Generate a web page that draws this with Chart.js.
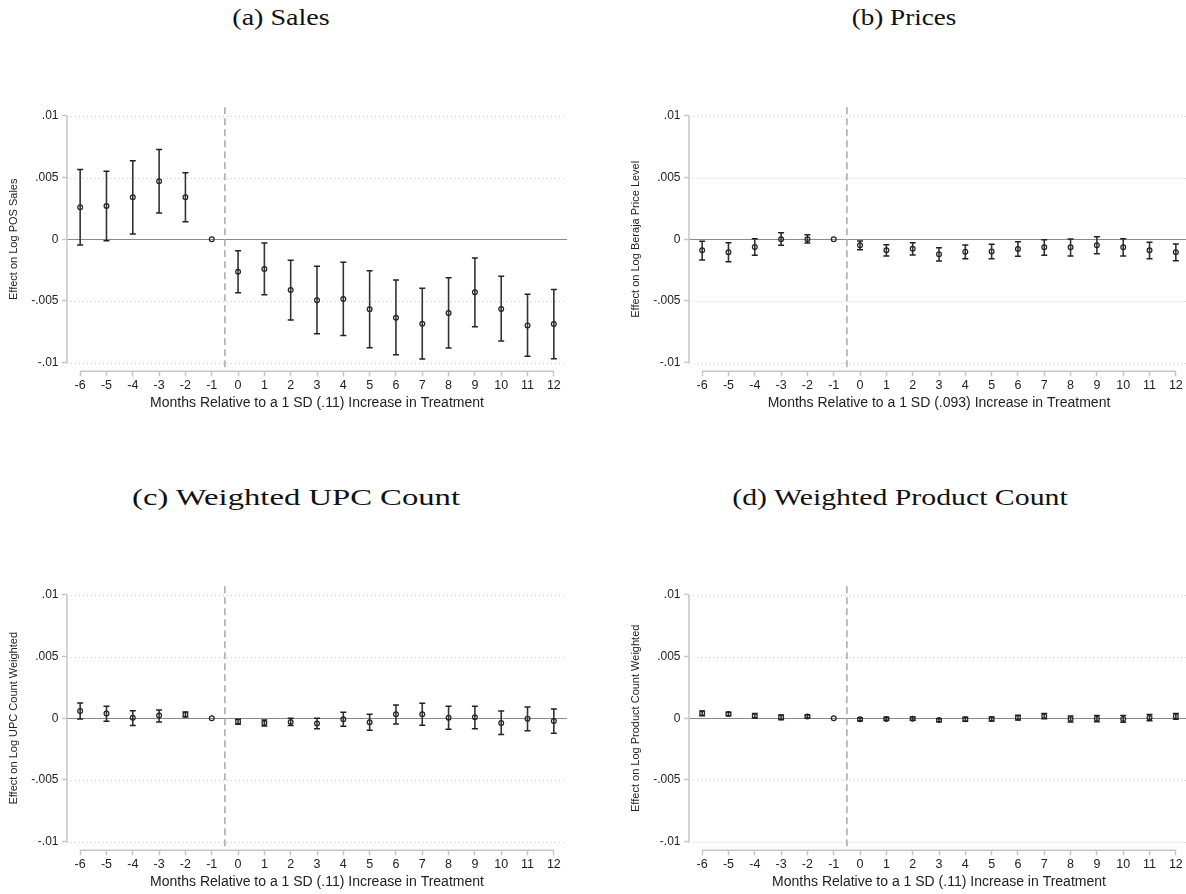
<!DOCTYPE html>
<html>
<head>
<meta charset="utf-8">
<script src="https://cdn.jsdelivr.net/npm/chart.js@4.4.1/dist/chart.umd.min.js"></script>
<style>
  html, body { margin: 0; padding: 0; background: #fff; overflow: hidden; width: 1186px; height: 894px; }
  .panel { position: absolute; width: 593px; height: 330px; }
  .cap { position: absolute; font-family: "Liberation Serif", serif; font-size: 24px; color: #111;
         white-space: nowrap; transform-origin: center; }
</style>
</head>
<body>
<div class="cap" data-w="97" style="left:281px; top:4px;">(a) Sales</div>
<div class="cap" data-w="105" style="left:904px; top:4px;">(b) Prices</div>
<div class="cap" data-w="328" style="left:296px; top:484px;">(c) Weighted UPC Count</div>
<div class="cap" data-w="335" style="left:900px; top:484px;">(d) Weighted Product Count</div>

<div class="panel" style="left:0px; top:90px;"><canvas id="chartA" width="593" height="330"></canvas></div>
<div class="panel" style="left:622px; top:90px;"><canvas id="chartB" width="593" height="330"></canvas></div>
<div class="panel" style="left:0px; top:569px;"><canvas id="chartC" width="593" height="330"></canvas></div>
<div class="panel" style="left:622px; top:569px;"><canvas id="chartD" width="593" height="330"></canvas></div>

<script>
// months relative to the treatment change
const months = [-6, -5, -4, -3, -2, -1, 0, 1, 2, 3, 4, 5, 6, 7, 8, 9, 10, 11, 12];
const yTicks = [-0.01, -0.005, 0, 0.005, 0.01];
const yTickLabels = ['-.01', '-.005', '0', '.005', '.01'];

// (a) sales
const salesEst = [0.0026, 0.0027, 0.0034, 0.0047, 0.0034, 0, -0.00263, -0.00241, -0.00411, -0.00495, -0.00484, -0.00568, -0.00636, -0.00684, -0.00598, -0.0043, -0.00565, -0.00698, -0.00687];
const salesLo = [-0.00046, -0.00011, 0.00043, 0.00213, 0.00143, null, -0.00433, -0.00449, -0.00654, -0.00765, -0.00779, -0.00879, -0.00936, -0.0097, -0.00882, -0.00709, -0.00825, -0.00949, -0.00968];
const salesHi = [0.00565, 0.00551, 0.00637, 0.00727, 0.0054, null, -0.00092, -0.0003, -0.0017, -0.00219, -0.00187, -0.00254, -0.0033, -0.00397, -0.00311, -0.00152, -0.003, -0.00446, -0.00406];

// (b) prices
const priceEst = [-0.00089, -0.00105, -0.00062, 0.0, 0.0, 0, -0.00049, -0.00089, -0.00076, -0.00122, -0.001, -0.00098, -0.00079, -0.00065, -0.00065, -0.00049, -0.00065, -0.00089, -0.00105];
const priceLo = [-0.00168, -0.00181, -0.0013, -0.00049, -0.0003, null, -0.00084, -0.00135, -0.00127, -0.00176, -0.00157, -0.00157, -0.00138, -0.0013, -0.00135, -0.00117, -0.00135, -0.00157, -0.00173];
const priceHi = [-0.00016, -0.00027, 0.00005, 0.00054, 0.00037, null, -0.00014, -0.00044, -0.00027, -0.00068, -0.00046, -0.00041, -0.0002, -0.00003, 0.00003, 0.00021, 0.00005, -0.00024, -0.00038];

// (c) weighted UPC count
const upcEst = [0.00059, 0.00038, 0.00005, 0.00022, 0.0003, 0, -0.00027, -0.00038, -0.0003, -0.00043, -0.00008, -0.00032, 0.00032, 0.00032, 0.00005, 0.00008, -0.00038, -0.00003, -0.00022];
const upcLo = [-0.00005, -0.00024, -0.00059, -0.0003, 0.00011, null, -0.00049, -0.00062, -0.00059, -0.00084, -0.00065, -0.00097, -0.00046, -0.00057, -0.00089, -0.00084, -0.00132, -0.001, -0.00122];
const upcHi = [0.00124, 0.00097, 0.00062, 0.00068, 0.00051, null, -0.00008, -0.00014, 0.0, 0.0, 0.00049, 0.00032, 0.00108, 0.00122, 0.00097, 0.00097, 0.00059, 0.00092, 0.00076];

// (d) weighted product count
const prodEst = [0.0004, 0.00035, 0.00019, 0.00008, 0.00014, 0, -0.00008, -0.00005, -0.00003, -0.00014, -0.00008, -0.00005, 0.00005, 0.00019, -0.00005, -0.00003, -0.00005, 0.00005, 0.00016];
const prodLo = [0.0002, 0.0002, 0.00003, -0.00011, 0.00003, null, -0.00019, -0.00016, -0.00016, -0.00027, -0.00024, -0.00022, -0.00014, -0.00003, -0.0003, -0.00027, -0.00032, -0.00019, -0.00008];
const prodHi = [0.0006, 0.0005, 0.00038, 0.00027, 0.00027, null, 0.00003, 0.00008, 0.00011, -0.00003, 0.00008, 0.00011, 0.00024, 0.00038, 0.00019, 0.00022, 0.00022, 0.0003, 0.00038];

const axisGray = '#c6c6c6';
const markColor = '#222';
const sans = '"Liberation Sans", Arial, sans-serif';

// stretch the subfigure captions to the reference widths (CM is wider than Times)
document.querySelectorAll('.cap').forEach(el => {
  const k = Number(el.dataset.w) / el.offsetWidth;
  el.style.transform = 'translateX(-50%) scaleX(' + k.toFixed(3) + ')';
});

// stata-ish background: dotted grid, zero line, event line, short axis lines
const backdrop = {
  id: 'backdrop',
  beforeDatasetsDraw(chart) {
    const {ctx, chartArea, scales: {x, y}} = chart;
    ctx.save();
    ctx.lineWidth = 1;
    ctx.strokeStyle = '#cfcfcf';
    ctx.setLineDash([1, 3]);
    yTicks.forEach(v => {
      if (v === 0) return;
      const py = Math.round(y.getPixelForValue(v)) + 0.5;
      ctx.beginPath(); ctx.moveTo(chartArea.left, py); ctx.lineTo(chartArea.right, py); ctx.stroke();
    });
    ctx.setLineDash([]);
    ctx.strokeStyle = '#8a8a8a';
    const zy = Math.round(y.getPixelForValue(0)) + 0.5;
    ctx.beginPath(); ctx.moveTo(chartArea.left, zy); ctx.lineTo(chartArea.right, zy); ctx.stroke();

    ctx.strokeStyle = '#a8a8a8';
    ctx.lineWidth = 1.5;
    ctx.setLineDash([7, 4]);
    const ex = x.getPixelForValue(-0.5);
    ctx.beginPath(); ctx.moveTo(ex, chartArea.top); ctx.lineTo(ex, chartArea.bottom); ctx.stroke();

    ctx.setLineDash([]);
    ctx.strokeStyle = axisGray;
    ctx.lineWidth = 1.5;
    ctx.beginPath();
    ctx.moveTo(chartArea.left, y.getPixelForValue(0.01));
    ctx.lineTo(chartArea.left, y.getPixelForValue(-0.01));
    ctx.moveTo(x.getPixelForValue(months[0]), chartArea.bottom);
    ctx.lineTo(x.getPixelForValue(months[months.length - 1]), chartArea.bottom);
    ctx.stroke();
    ctx.restore();
  }
};

function makePanel(id, est, lo, hi, yTitle, xTitle) {
  const points = months.map((m, i) => ({x: m, y: est[i]}));
  const bars = months.flatMap((m, i) => lo[i] === null ? [] :
    [{x: m, y: lo[i]}, {x: m, y: hi[i]}, {x: m, y: null}]);
  const caps = months.flatMap((m, i) => lo[i] === null ? [] :
    [{x: m, y: lo[i]}, {x: m, y: hi[i]}]);

  new Chart(document.getElementById(id), {
    type: 'scatter',
    data: {
      datasets: [
        {
          data: points,
          pointStyle: 'circle',
          pointRadius: 2.4,
          borderWidth: 1.2,
          borderColor: markColor,
          backgroundColor: 'rgba(0,0,0,0)'
        },
        {
          data: caps,
          pointStyle: 'line',
          pointRadius: 3,
          borderWidth: 1.5,
          borderColor: markColor
        },
        {
          data: bars,
          showLine: true,
          spanGaps: false,
          pointRadius: 0,
          borderWidth: 1.6,
          borderColor: '#333'
        }
      ]
    },
    options: {
      responsive: false,
      animation: false,
      events: [],
      layout: { padding: { left: 0, top: 17.3, right: 26, bottom: 8.7 } },
      plugins: { legend: { display: false }, tooltip: { enabled: false } },
      scales: {
        x: {
          type: 'linear',
          min: -6.5,
          max: 12.5,
          afterBuildTicks: s => { s.ticks = months.map(v => ({value: v})); },
          afterFit: s => { s.height = 40; },
          border: { display: false },
          grid: { drawOnChartArea: false, drawTicks: true, tickLength: 5, tickColor: axisGray, tickWidth: 1.5 },
          ticks: {
            autoSkip: false,
            maxRotation: 0,
            padding: 2,
            color: '#222',
            font: { family: sans, size: 12.5 },
            callback: v => String(v)
          },
          title: {
            display: true,
            text: xTitle,
            color: '#222',
            padding: { top: 0, bottom: 0 },
            font: { family: sans, size: 14 }
          }
        },
        y: {
          type: 'linear',
          min: -0.0107,
          max: 0.0107,
          afterBuildTicks: s => { s.ticks = yTicks.map(v => ({value: v})); },
          afterFit: s => { s.width = 67; },
          border: { display: false },
          grid: { drawOnChartArea: false, drawTicks: true, tickLength: 5, tickColor: axisGray, tickWidth: 1.5 },
          ticks: {
            padding: 3.5,
            color: '#222',
            font: { family: sans, size: 12 },
            callback: v => yTickLabels[yTicks.indexOf(v)]
          },
          title: {
            display: true,
            text: yTitle,
            color: '#222',
            padding: { top: 7.4, bottom: 0 },
            font: { family: sans, size: 11 }
          }
        }
      }
    },
    plugins: [backdrop]
  });
}

makePanel('chartA', salesEst, salesLo, salesHi, 'Effect on Log POS Sales',
  'Months Relative to a 1 SD (.11) Increase in Treatment');
makePanel('chartB', priceEst, priceLo, priceHi, 'Effect on Log Beraja Price Level',
  'Months Relative to a 1 SD (.093) Increase in Treatment');
makePanel('chartC', upcEst, upcLo, upcHi, 'Effect on Log UPC Count Weighted',
  'Months Relative to a 1 SD (.11) Increase in Treatment');
makePanel('chartD', prodEst, prodLo, prodHi, 'Effect on Log Product Count Weighted',
  'Months Relative to a 1 SD (.11) Increase in Treatment');
</script>
</body>
</html>
